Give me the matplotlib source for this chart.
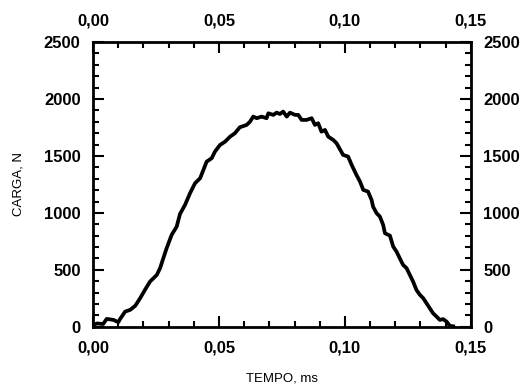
import matplotlib
matplotlib.use("Agg")
import matplotlib.pyplot as plt
from matplotlib.ticker import MultipleLocator, FuncFormatter

# load curve: time (ms) and load (N)
tempo = [0.0000, 0.0015, 0.0040, 0.0054, 0.0081, 0.0100, 0.0107, 0.0127, 0.0147,
         0.0167, 0.0187, 0.0206, 0.0226, 0.0253, 0.0266, 0.0279, 0.0292, 0.0312,
         0.0332, 0.0345, 0.0365, 0.0385, 0.0405, 0.0425, 0.0438, 0.0451, 0.0471,
         0.0484, 0.0504, 0.0524, 0.0544, 0.0563, 0.0583, 0.0610, 0.0623, 0.0636,
         0.0650, 0.0669, 0.0689, 0.0696, 0.0716, 0.0729, 0.0742, 0.0755, 0.0769,
         0.0782, 0.0802, 0.0815, 0.0828, 0.0848, 0.0868, 0.0881, 0.0894, 0.0907,
         0.0921, 0.0934, 0.0954, 0.0967, 0.0980, 0.0993, 0.1013, 0.1027, 0.1046,
         0.1060, 0.1073, 0.1092, 0.1106, 0.1112, 0.1126, 0.1139, 0.1152, 0.1159,
         0.1179, 0.1192, 0.1205, 0.1218, 0.1231, 0.1245, 0.1258, 0.1271, 0.1284,
         0.1298, 0.1311, 0.1324, 0.1337, 0.1350, 0.1364, 0.1377, 0.1390, 0.1404,
         0.1417, 0.1430]
carga = [15, 30, 25, 70, 61, 41, 68, 134, 149,
         184, 252, 325, 397, 456, 515, 603, 690, 807,
         880, 990, 1070, 1173, 1261, 1304, 1377, 1450, 1480,
         1538, 1596, 1625, 1669, 1699, 1752, 1772, 1800, 1845,
         1831, 1845, 1831, 1874, 1860, 1880, 1868, 1889, 1845,
         1880, 1860, 1860, 1816, 1816, 1831, 1772, 1787, 1713,
         1728, 1669, 1640, 1611, 1560, 1509, 1494, 1421, 1333,
         1275, 1202, 1187, 1114, 1055, 997, 968, 895, 822,
         800, 704, 661, 602, 544, 515, 456, 397, 325,
         281, 252, 208, 164, 120, 90, 61, 68, 46,
         9, 5]

plt.rcParams['font.family'] = ['Liberation Sans', 'DejaVu Sans']

fig = plt.figure(figsize=(5.26, 3.85), dpi=100)
ax = fig.add_axes([0.177, 0.151, 0.718, 0.740])

ax.plot(tempo, carga, color='black', linewidth=2.7, solid_joinstyle='round')

ax.set_xlim(0, 0.15)
ax.set_ylim(0, 2500)
ax.xaxis.set_major_locator(MultipleLocator(0.05))
ax.xaxis.set_minor_locator(MultipleLocator(0.01))
ax.yaxis.set_major_locator(MultipleLocator(500))
ax.yaxis.set_minor_locator(MultipleLocator(100))
ax.xaxis.set_major_formatter(FuncFormatter(lambda v, p: f"{v:.2f}".replace('.', ',')))
ax.yaxis.set_major_formatter(FuncFormatter(lambda v, p: f"{v:.0f}"))

for s in ax.spines.values():
    s.set_linewidth(2.0)

ax.tick_params(which='both', direction='in', top=True, right=True,
               labeltop=True, labelright=True, width=1.5, color='black')
ax.tick_params(which='major', length=8, pad=10, labelsize=12)
ax.tick_params(which='minor', length=4.3)
ax.tick_params(axis='y', which='major', pad=9)
plt.setp(ax.xaxis.get_majorticklabels(), fontweight='bold')
plt.setp(ax.yaxis.get_majorticklabels(), fontweight='bold')

ax.set_xlabel('TEMPO, ms', fontsize=9.5, labelpad=12)
ax.set_ylabel('CARGA, N', fontsize=9.5, labelpad=14)

fig.savefig('out.png', dpi=100)
